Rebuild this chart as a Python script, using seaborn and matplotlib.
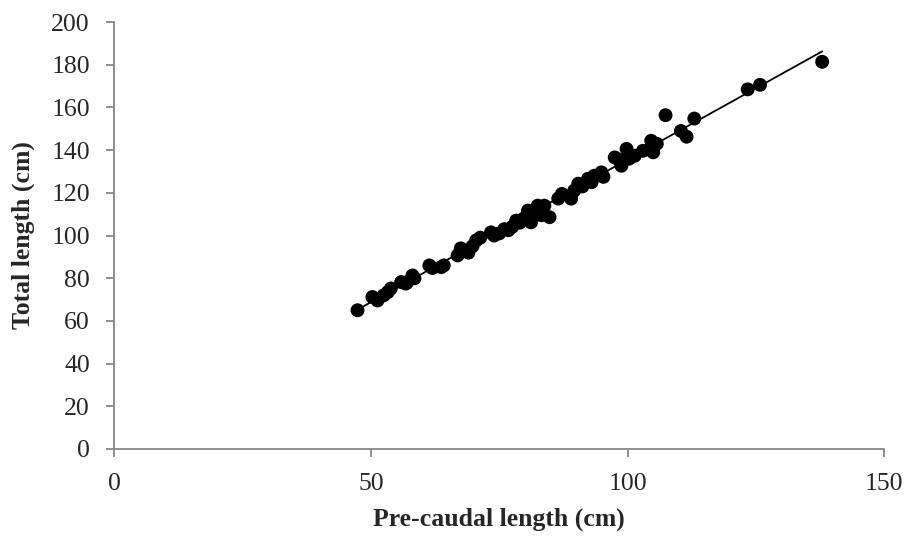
import matplotlib
matplotlib.use("Agg")
import matplotlib.pyplot as plt
import numpy as np
import pandas as pd
import seaborn as sns

# pre-caudal length vs total length (cm)
pcl = [47.4, 50.3, 51.3, 52.5, 53.3, 53.9, 55.9, 56.8, 57.1, 58.1,
       58.5, 61.4, 62.0, 63.7, 64.2, 66.9, 67.5, 68.2, 69.0, 69.8,
       70.5, 71.3, 73.4, 74.0, 75.0, 76.0, 76.8, 77.5, 78.3, 79.0,
       79.8, 80.6, 81.2, 81.5, 82.0, 82.5, 83.2, 83.8, 84.8, 86.5,
       87.2, 89.0, 89.6, 90.4, 91.2, 92.3, 93.0, 93.5, 94.9, 95.3,
       97.5, 98.3, 98.8, 99.8, 100.3, 101.4, 103.0, 104.6, 105.0, 105.7,
       107.4, 110.4, 111.5, 113.0, 123.4, 125.8, 137.9]
tl = [65.0, 71.2, 69.6, 72.0, 73.5, 75.2, 78.2, 77.5, 78.2, 81.3,
      80.0, 86.0, 84.8, 85.2, 86.0, 90.7, 94.0, 93.0, 92.0, 95.0,
      97.7, 99.0, 101.5, 100.0, 101.0, 103.0, 102.5, 104.0, 107.0, 106.0,
      108.0, 111.7, 106.2, 110.0, 112.0, 114.0, 109.5, 114.0, 108.6, 117.3,
      119.5, 117.3, 121.0, 124.3, 123.0, 126.6, 125.0, 128.0, 129.6, 127.5,
      136.6, 135.5, 132.7, 140.6, 136.0, 137.4, 139.7, 144.4, 139.0, 143.0,
      156.4, 149.0, 146.3, 154.8, 168.5, 170.6, 181.4]

x_ticks = [0, 50, 100, 150]
y_ticks = list(range(0, 201, 20))

df = pd.DataFrame({"pcl": pcl, "tl": tl})

sns.set_style("white")
plt.rcParams["font.family"] = ["Liberation Serif", "DejaVu Serif"]

fig = plt.figure(figsize=(9.06, 5.39), dpi=100)
ax = fig.add_axes([0.126, 0.167, 0.850, 0.792])

sns.regplot(data=df, x="pcl", y="tl", ax=ax, ci=None, truncate=True,
            scatter_kws={"s": 100, "color": "black", "edgecolor": "none", "alpha": 1},
            line_kws={"color": "black", "lw": 1.3})

ax.set_xlim(0, 150)
ax.set_ylim(0, 200)
ax.set_xticks(x_ticks)
ax.set_yticks(y_ticks)

axis_col = "#868686"
for side in ["top", "right"]:
    ax.spines[side].set_visible(False)
for side in ["left", "bottom"]:
    ax.spines[side].set_color(axis_col)
    ax.spines[side].set_linewidth(1.3)
ax.tick_params(axis="both", direction="out", length=5.5, width=1.3, color=axis_col,
               labelsize=18.5, pad=12, left=True, bottom=True)

ax.set_xlabel("Pre-caudal length (cm)", fontsize=18.5, fontweight="bold", labelpad=9)
ax.set_ylabel("Total length (cm)", fontsize=18.5, fontweight="bold", labelpad=12)

fig.savefig("out.png", dpi=100)
